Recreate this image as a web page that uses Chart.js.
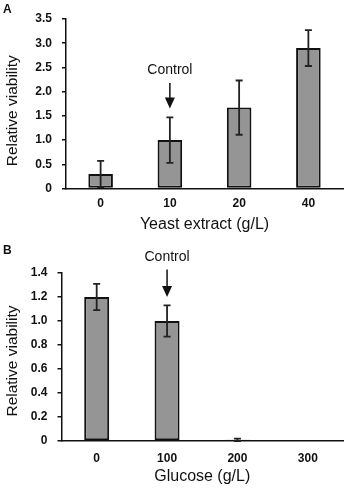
<!DOCTYPE html>
<html>
<head>
<meta charset="utf-8">
<script src="https://cdn.jsdelivr.net/npm/chart.js@4"></script>
<style>
  html, body { margin: 0; padding: 0; background: #fff; }
  #wrap { position: relative; width: 348px; height: 488px; }
  .pane { position: absolute; left: 0; width: 348px; }
</style>
</head>
<body>
<div id="wrap">
  <div class="pane" style="top:0;height:240px"><canvas id="chA"></canvas></div>
  <div class="pane" style="top:240px;height:248px"><canvas id="chB"></canvas></div>
</div>
<script>
// Panel A: yeast extract
const yeastLabels = ['0', '10', '20', '40'];
const yeastViability = [0.30, 1.00, 1.67, 2.90];
const yeastError = [0.27, 0.47, 0.56, 0.37];
const yeastTicks = [0, 0.5, 1.0, 1.5, 2.0, 2.5, 3.0, 3.5];
// control arrow: category index, text y, arrow start y, arrow tip y (data units)
const yeastControl = [1, 2.45, 2.18, 1.65];

// Panel B: glucose
const glucoseLabels = ['0', '100', '200', '300'];
const glucoseViability = [1.20, 1.00, 0.01, 0];
const glucoseError = [0.11, 0.13, 0.01, 0];
const glucoseTicks = [0, 0.2, 0.4, 0.6, 0.8, 1.0, 1.2, 1.4];
const glucoseControl = [1, 1.53, 1.43, 1.20];

const FONT = '"Liberation Sans", Arial, sans-serif';
const tickText = v => v === 0 ? '0' : v.toFixed(1);

const errorBars = {
  id: 'errorBars',
  afterDatasetsDraw(chart, args, opts) {
    const { ctx } = chart;
    const y = chart.scales.y;
    const meta = chart.getDatasetMeta(0);
    ctx.save();
    ctx.strokeStyle = '#222';
    ctx.lineWidth = 1.8;
    meta.data.forEach((bar, i) => {
      const v = chart.data.datasets[0].data[i], e = opts.errors[i];
      if (!e) return;
      const t = y.getPixelForValue(v + e), b = y.getPixelForValue(v - e);
      ctx.beginPath();
      ctx.moveTo(bar.x, t); ctx.lineTo(bar.x, b);
      ctx.moveTo(bar.x - 3.5, t); ctx.lineTo(bar.x + 3.5, t);
      ctx.moveTo(bar.x - 3.5, b); ctx.lineTo(bar.x + 3.5, b);
      ctx.stroke();
    });
    ctx.restore();
  }
};

const annot = {
  id: 'annot',
  afterDraw(chart, args, opts) {
    const { ctx, chartArea } = chart;
    const y = chart.scales.y, x = chart.scales.x;
    const [idx, ty, from, to] = opts.control;
    const cx = x.getPixelForValue(idx);
    ctx.save();
    ctx.fillStyle = '#111';
    ctx.font = `14px ${FONT}`;
    ctx.textAlign = 'center';
    ctx.textBaseline = 'middle';
    ctx.fillText('Control', cx, y.getPixelForValue(ty));
    const y0 = y.getPixelForValue(from), y1 = y.getPixelForValue(to);
    ctx.strokeStyle = '#111';
    ctx.lineWidth = 1.5;
    ctx.beginPath();
    ctx.moveTo(cx, y0); ctx.lineTo(cx, y1 - 8);
    ctx.stroke();
    ctx.beginPath();
    ctx.moveTo(cx - 5, y1 - 11); ctx.lineTo(cx + 5, y1 - 11); ctx.lineTo(cx, y1);
    ctx.closePath();
    ctx.fill();
    // y axis title
    ctx.save();
    ctx.translate(12.5, (chartArea.top + chartArea.bottom) / 2 + opts.yTitleShift);
    ctx.rotate(-Math.PI / 2);
    ctx.font = `15.5px ${FONT}`;
    ctx.fillText('Relative viability', 0, 0);
    ctx.restore();
    // panel letter
    ctx.font = `bold 12px ${FONT}`;
    ctx.textAlign = 'left';
    ctx.textBaseline = 'alphabetic';
    ctx.fillText(opts.letter, 3, opts.letterY);
    ctx.restore();
  }
};

function panel(id, cfg) {
  return new Chart(document.getElementById(id), {
    type: 'bar',
    data: {
      labels: cfg.labels,
      datasets: [{
        data: cfg.values,
        backgroundColor: '#959595',
        borderColor: '#111',
        borderWidth: 2,
        borderSkipped: false,
        categoryPercentage: 1,
        barPercentage: 0.355,
      }]
    },
    options: {
      responsive: true, maintainAspectRatio: false, animation: false,
      layout: { padding: { top: cfg.top, right: 5, left: 0, bottom: 0 } },
      plugins: {
        legend: { display: false }, tooltip: { enabled: false },
        errorBars: { errors: cfg.errors },
        annot: { control: cfg.control, letter: cfg.letter, letterY: cfg.letterY, yTitleShift: cfg.yTitleShift },
      },
      scales: {
        x: {
          grid: { display: false, drawTicks: false },
          border: { color: '#111', width: 1.5 },
          ticks: { color: '#111', padding: cfg.xPad, font: { family: FONT, size: 12, weight: 'bold' } },
          title: { display: true, text: cfg.xTitle, color: '#111',
                   padding: { top: 0, bottom: cfg.xTitlePad }, font: { family: FONT, size: 16 } },
          afterFit: s => { s.height = cfg.xH; },
        },
        y: {
          min: 0, max: cfg.ticks[cfg.ticks.length - 1],
          afterBuildTicks: s => { s.ticks = cfg.ticks.map(v => ({ value: v })); },
          grid: { display: true, drawOnChartArea: false, drawTicks: true, tickLength: 4,
                  color: '#111', lineWidth: 1.5 },
          border: { color: '#111', width: 1.5 },
          ticks: { color: '#111', padding: 10, callback: v => tickText(v),
                   font: { family: FONT, size: 12, weight: 'bold' } },
          afterFit: s => { s.width = cfg.yW; },
        }
      }
    },
    plugins: [errorBars, annot]
  });
}

panel('chA', {
  labels: yeastLabels, values: yeastViability, errors: yeastError, ticks: yeastTicks,
  control: yeastControl, letter: 'A', letterY: 13, yTitleShift: 7,
  xTitle: 'Yeast extract (g/L)', top: 19, xH: 51.5, xPad: 8, xTitlePad: 5.5, yW: 66,
});
panel('chB', {
  labels: glucoseLabels, values: glucoseViability, errors: glucoseError, ticks: glucoseTicks,
  control: glucoseControl, letter: 'B', letterY: 14, yTitleShift: 4,
  xTitle: 'Glucose (g/L)', top: 33, xH: 47, xPad: 10, xTitlePad: 1.5, yW: 61.5,
});
</script>
</body>
</html>
